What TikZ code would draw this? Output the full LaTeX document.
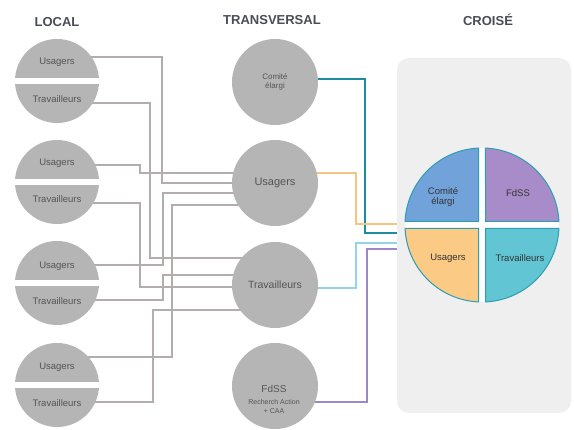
\documentclass[tikz,border=0pt]{standalone}
\usepackage{fontspec}
\setmainfont{Liberation Sans}
\usetikzlibrary{backgrounds}
\definecolor{circgray}{HTML}{B5B5B5}
\definecolor{txtgray}{HTML}{555555}
\definecolor{lnkgray}{HTML}{B4ADAD}
\definecolor{titlegray}{HTML}{4A4D56}
\definecolor{panelgray}{HTML}{EFEFEF}
\definecolor{lnteal}{HTML}{1C8C9E}
\definecolor{lnorange}{HTML}{F8C47E}
\definecolor{lnblue}{HTML}{92D5EA}
\definecolor{lnpurple}{HTML}{9C88C6}
\definecolor{pieblue}{HTML}{71A3DA}
\definecolor{piepurple}{HTML}{A88CC9}
\definecolor{pieorange}{HTML}{FBCB86}
\definecolor{pieteal}{HTML}{62C5D3}
\definecolor{pieedge}{HTML}{2C9DB3}
\tikzset{
  title/.style={font=\bfseries\fontsize{13}{13}\selectfont, text=titlegray},
  loccirc/.style={circle, fill=circgray, minimum size=84pt, inner sep=0pt},
  loctext/.style={text=txtgray, font=\fontsize{9.5}{10}\selectfont},
  bigcirc/.style={circle, fill=circgray, minimum size=86pt, inner sep=0pt, text=txtgray},
  link/.style={draw=lnkgray, line width=1.6pt},
  colink/.style={line width=2pt},
  piepart/.style={draw=pieedge, line width=1pt},
  pietext/.style={text=black!80, font=\fontsize{9.5}{10.5}\selectfont, align=center}
}
\begin{document}
\begin{tikzpicture}[x=1pt, y=1pt]
\useasboundingbox (0,0) rectangle (574,430);

% titles
\node[title] (tLocal) at (57,408) {LOCAL};
\node[title] (tTrans) at (272,410) {TRANSVERSAL};
\node[title] (tCrois) at (488,410) {CROISÉ};

% local: split circles
\node[loccirc] (l1) at (57,349) {};\fill[white] (l1.west) ++(-1,-3) rectangle ++(86,6);
\node[loccirc] (l2) at (57,248) {};\fill[white] (l2.west) ++(-1,-3) rectangle ++(86,6);
\node[loccirc] (l3) at (57,147) {};\fill[white] (l3.west) ++(-1,-3) rectangle ++(86,6);
\node[loccirc] (l4) at (57,45) {};\fill[white] (l4.west) ++(-1,-3) rectangle ++(86,6);
\node[loctext] (l1u) at (57,368) {Usagers};
\node[loctext] (l1t) at (57,331) {Travailleurs};
\node[loctext] (l2u) at (57,267) {Usagers};
\node[loctext] (l2t) at (57,231) {Travailleurs};
\node[loctext] (l3u) at (57,164) {Usagers};
\node[loctext] (l3t) at (57,129) {Travailleurs};
\node[loctext] (l4u) at (57,63) {Usagers};
\node[loctext] (l4t) at (57,27) {Travailleurs};

% transversal
\node[bigcirc, font=\fontsize{8}{9.5}\selectfont, align=center] (mC) at (275,348) {Comité\\élargi};
\node[bigcirc, font=\fontsize{11}{12}\selectfont] (mU) at (275,247) {Usagers};
\node[bigcirc, font=\fontsize{10.5}{12}\selectfont] (mT) at (275,145) {Travailleurs};
\node[bigcirc] (mF) at (275,44) {};
\node[text=txtgray, font=\fontsize{10}{11}\selectfont] (mFa) at (274,41) {FdSS};
\node[text=txtgray, font=\fontsize{7}{8}\selectfont] (mFb) at (274,27.5) {Recherch Action};
\node[text=txtgray, font=\fontsize{7}{8}\selectfont] (mFc) at (274,18.5) {+ CAA};

% croise
\node[fill=panelgray, rounded corners=12pt, minimum width=174pt, minimum height=355pt, inner sep=0pt] (panel) at (484,194.5) {};
\coordinate (pc) at (482,205);
\fill[white] (pc) circle (77pt);
\filldraw[piepart, fill=pieblue] (pc) ++(-3.5,3.5) -- ++(0,73.42) arc (92.6:177.4:77pt) -- cycle;
\filldraw[piepart, fill=piepurple] (pc) ++(3.5,3.5) -- ++(73.42,0) arc (2.6:87.4:77pt) -- cycle;
\filldraw[piepart, fill=pieorange] (pc) ++(-3.5,-3.5) -- ++(-73.42,0) arc (182.6:267.4:77pt) -- cycle;
\filldraw[piepart, fill=pieteal] (pc) ++(3.5,-3.5) -- ++(0,-73.42) arc (272.6:357.4:77pt) -- cycle;
\node[pietext] (pComite) at (443,233) {Comité\\élargi};
\node[pietext] (pFdss) at (518,237) {FdSS};
\node[pietext] (pUsagers) at (448,172) {Usagers};
\node[pietext] (pTrav) at (520,172) {Travailleurs};

\begin{scope}[on background layer]
\fill[white] (0,0) rectangle (574,430);%fond
% local -> transversal
\draw[link] (l1.center |- 0,373) -| (162,247) -- (mU.center);
\draw[link] (l1.center |- 0,327) -| (150,172) -- (mT.center |- 0,172);
\draw[link] (l2.center |- 0,265) -| (140,257) -- (mU.center |- 0,257);
\draw[link] (l2.center |- 0,227) -| (140,143) -- (mT.center |- 0,143);
\draw[link] (l3.center |- 0,165) -| (163,237) -- (mU.center |- 0,237);
\draw[link] (l3.center |- 0,130) -| (163,155) -- (mT.center |- 0,155);
\draw[link] (l4.center |- 0,73) -| (172,225) -- (mU.center |- 0,225);
\draw[link] (l4.center |- 0,28) -| (153,120) -- (mT.center |- 0,120);
% transversal -> croise
\draw[colink, lnteal] (mC.center |- 0,351) -| (365,197) -- (panel.west |- 0,197);
\draw[colink, lnorange] (mU.center |- 0,257) -| (356,206) -- (panel.west |- 0,206);
\draw[colink, lnblue] (mT.center |- 0,142) -| (356,187) -- (panel.west |- 0,187);
\draw[colink, lnpurple] (mF.center |- 0,28) -| (367,181) -- (panel.west |- 0,181);
\end{scope}
\end{tikzpicture}
\end{document}
